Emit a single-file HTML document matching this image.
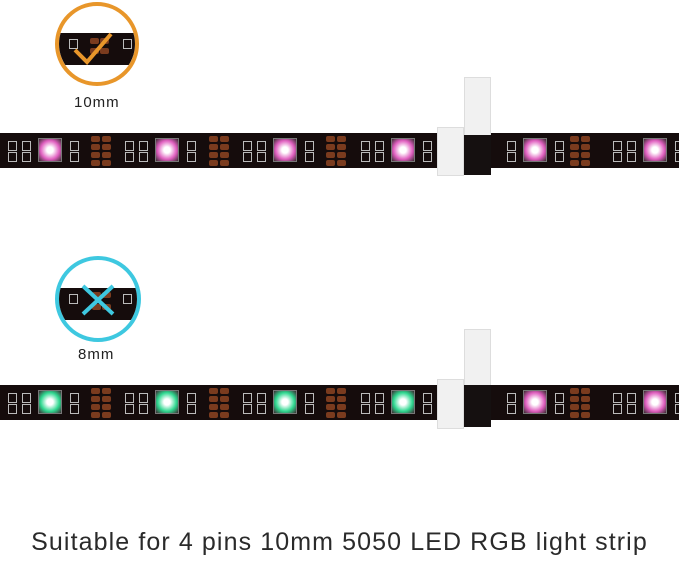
<!DOCTYPE html>
<html><head><meta charset="utf-8"><style>
body{margin:0;width:679px;height:561px;background:#fff;position:relative;overflow:hidden;font-family:"Liberation Sans",sans-serif}
.a{position:absolute}
.strip{position:absolute;left:0;width:679px;height:35px;background:#150c0c}
.led{position:absolute;width:24px;height:24px;top:5px;border:1px solid #777;box-sizing:border-box}
.pad{position:absolute;width:9px;height:6px;background:#7a3b1e;border-radius:2px}
.sq{position:absolute;width:9px;height:10px;border:1px solid #bbb;box-sizing:border-box}
.conn{position:absolute;background:#f1f1f1;border:1px solid #ddd;box-sizing:border-box}
.lbl{position:absolute;font-size:15px;color:#222;letter-spacing:1px}
</style></head><body>
<div id="s1" class="strip" style="top:133px"></div>
<div id="s2" class="strip" style="top:385px"></div>

<div class="a" style="left:55px;top:2px;width:84px;height:84px;border-radius:50%;border:4px solid #e8962a;box-sizing:border-box;overflow:hidden">
 <div class="a" style="left:0;top:27px;width:84px;height:32px;background:#150c0c"></div>
 <div class="pad" style="left:31px;top:32px"></div><div class="pad" style="left:41px;top:32px"></div>
 <div class="pad" style="left:31px;top:42px"></div><div class="pad" style="left:41px;top:42px"></div>
 <div class="sq" style="left:10px;top:33px"></div><div class="sq" style="left:64px;top:33px"></div>
</div>
<svg class="a" style="left:55px;top:2px" width="90" height="90"><polyline points="20,48 32,60 56,32" fill="none" stroke="#e8962a" stroke-width="4"/></svg>
<div class="lbl" style="left:74px;top:94px">10mm</div>

<div class="a" style="left:55px;top:256px;width:86px;height:86px;border-radius:50%;border:4px solid #3ec8e0;box-sizing:border-box;overflow:hidden">
 <div class="a" style="left:0;top:28px;width:86px;height:32px;background:#150c0c"></div>
 <div class="pad" style="left:33px;top:32px"></div><div class="pad" style="left:43px;top:32px"></div>
 <div class="pad" style="left:33px;top:44px"></div><div class="pad" style="left:43px;top:44px"></div>
 <div class="sq" style="left:10px;top:34px"></div><div class="sq" style="left:64px;top:34px"></div>
</div>
<svg class="a" style="left:55px;top:256px" width="90" height="90"><path d="M28 30 L58 58 M58 30 L28 58" stroke="#3ec8e0" stroke-width="4"/></svg>
<div class="lbl" style="left:78px;top:346px">8mm</div>

<div class="conn" style="left:464px;top:77px;width:27px;height:60px"></div>
<div class="a" style="left:463px;top:135px;width:28px;height:40px;background:#151010"></div>
<div class="conn" style="left:437px;top:127px;width:27px;height:49px"></div>
<div class="conn" style="left:464px;top:329px;width:27px;height:58px"></div>
<div class="a" style="left:463px;top:385px;width:28px;height:42px;background:#151010"></div>
<div class="conn" style="left:437px;top:379px;width:27px;height:50px"></div>

<div class="a" style="left:0;top:528px;width:679px;text-align:center;font-size:25px;color:#2a2a2a;letter-spacing:1.1px">Suitable for 4 pins 10mm 5050 LED RGB light strip</div>

<script>
function build(top,colors){
 var xs=[50,167,285,403,535,655];
 for(var i=0;i<6;i++){
  var d=document.createElement('div');d.className='led';
  var c=colors[i];
  d.style.left=(xs[i]-12)+'px';d.style.top=(top+5)+'px';
  d.style.background='radial-gradient(circle,#fff 0,#fff 20%,'+c+' 60%,#3a2a30 100%)';
  d.style.position='absolute';document.body.appendChild(d);
  [xs[i]-42,xs[i]-28,xs[i]+20].forEach(function(x){
   if(x>430&&x<495)return;
   var s=document.createElement('div');s.className='sq';s.style.left=x+'px';s.style.top=(top+8)+'px';document.body.appendChild(s);
   var s2=document.createElement('div');s2.className='sq';s2.style.left=x+'px';s2.style.top=(top+19)+'px';document.body.appendChild(s2);
  });
 }
 [101,219,336,580].forEach(function(cx){
  for(var r=0;r<4;r++){for(var k=0;k<2;k++){
   var p=document.createElement('div');p.className='pad';
   p.style.left=(cx-10+k*11)+'px';p.style.top=(top+3+r*8)+'px';document.body.appendChild(p);}}
 });
}
build(133,['#e060c0','#e060c0','#e060c0','#e060c0','#e060c0','#e060c0']);
build(385,['#30d890','#30d890','#30d890','#30d890','#e060c0','#e060c0']);
</script>
</body></html>
